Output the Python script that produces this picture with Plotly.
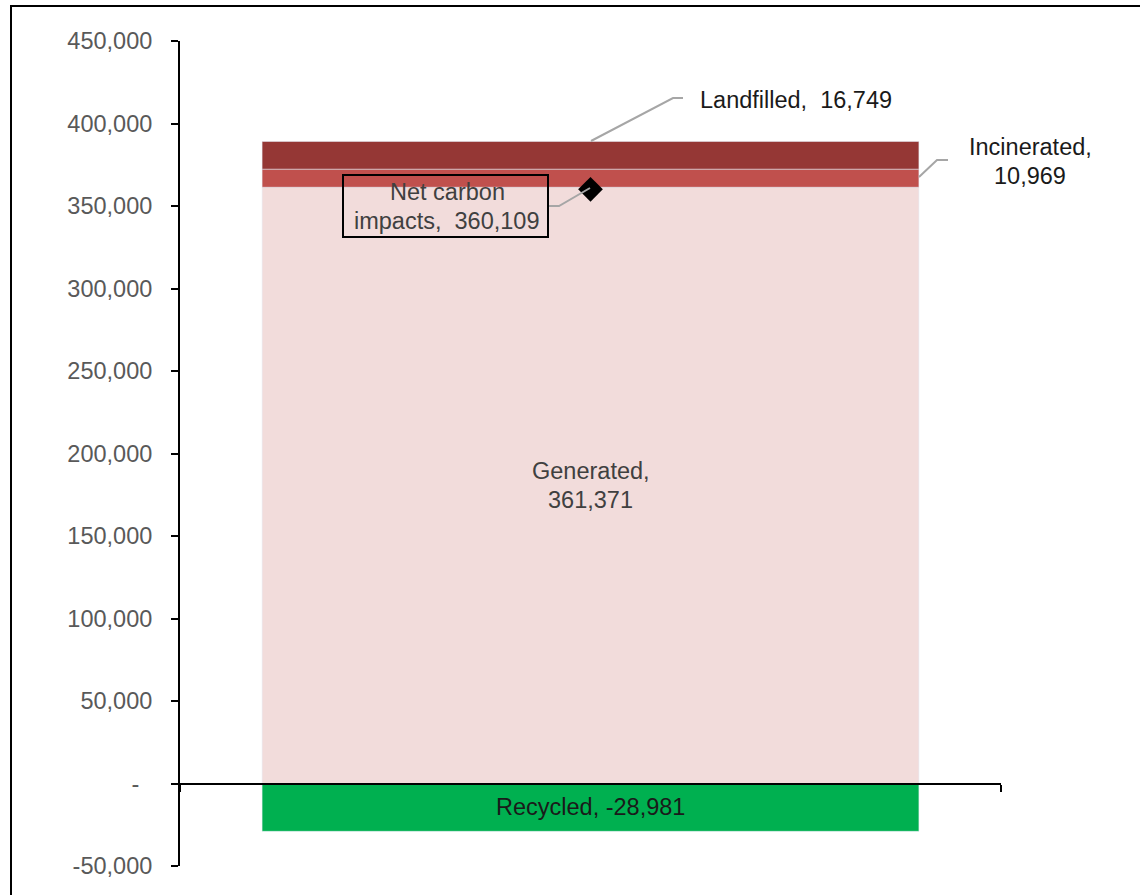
import plotly.graph_objects as go

# ---- data ----
category = ["Total"]
generated = [361371]
incinerated = [10969]
landfilled = [16749]
recycled = [-28981]
net_carbon = [360109]
y_ticks = [-50000, 0, 50000, 100000, 150000, 200000, 250000, 300000, 350000, 400000, 450000]
y_ticktext = ["-50,000", "-\u00a0\u00a0", "50,000", "100,000", "150,000", "200,000",
              "250,000", "300,000", "350,000", "400,000", "450,000"]

FONT = "Liberation Sans, Arial, sans-serif"
FS = 23.5
LINE_GAP = 29  # px between text lines

# plot area in pixels (for paper conversions of leader lines)
L, R, T, B = 180, 1001, 41, 866
def px(x):
    return (x - L) / (R - L)
def py(y):
    return (B - y) / (B - T)

fig = go.Figure()
fig.add_bar(x=category, y=generated, marker_color="#F2DCDB", width=0.8, name="Generated")
fig.add_bar(x=category, y=incinerated, marker_color="#C0504D", width=0.8, name="Incinerated")
fig.add_bar(x=category, y=landfilled, marker_color="#953735", width=0.8, name="Landfilled")
fig.add_bar(x=category, y=recycled, marker_color="#00B050", width=0.8, name="Recycled")
fig.add_scatter(x=category, y=net_carbon, mode="markers",
                marker=dict(symbol="diamond", size=19, color="black"), name="Net carbon impacts")

annotations = []
def label(lines, color, **kw):
    n = len(lines)
    for i, t in enumerate(lines):
        shift = ((n - 1) / 2 - i) * LINE_GAP
        annotations.append(dict(text=t, showarrow=False, yshift=shift,
                                font=dict(family=FONT, size=FS, color=color), **kw))

label(["Generated,", f"{generated[0]:,}"], "#404040",
      x=category[0], y=generated[0] / 2, xref="x", yref="y")
label([f"Recycled, {recycled[0]:,}"], "#1a1a1a",
      x=category[0], y=recycled[0] / 2, xref="x", yref="y")
label([f"Landfilled,  {landfilled[0]:,}"], "#1a1a1a",
      x=px(698), y=py(100), xref="paper", yref="paper", xanchor="left", yanchor="middle")
label(["Incinerated,", f"{incinerated[0]:,}"], "#1a1a1a",
      x=px(1030), y=py(161), xref="paper", yref="paper", xanchor="center", yanchor="middle")
label(["Net carbon", f"impacts,  {net_carbon[0]:,}"], "#404040",
      x=px(447), y=py(207), xref="paper", yref="paper", xanchor="center", yanchor="middle")

lc = dict(color="#A6A6A6", width=2)
shapes = [
    # outer chart border
    dict(type="rect", xref="paper", yref="paper", x0=px(11), y0=py(960), x1=px(1200), y1=py(6),
         line=dict(color="black", width=2), fillcolor="rgba(0,0,0,0)", layer="above"),
    # net carbon label box
    dict(type="rect", xref="paper", yref="paper", x0=px(343), y0=py(237), x1=px(548), y1=py(175),
         line=dict(color="black", width=2), fillcolor="rgba(0,0,0,0)", layer="above"),
    # leader lines
    dict(type="path", xref="paper", yref="paper",
         path=f"M {px(591)} {py(141)} L {px(673)} {py(98)} L {px(683)} {py(98)}", line=lc),
    dict(type="path", xref="paper", yref="paper",
         path=f"M {px(919)} {py(177)} L {px(937)} {py(160)} L {px(948)} {py(160)}", line=lc),
    dict(type="path", xref="paper", yref="paper",
         path=f"M {px(549)} {py(206)} L {px(559)} {py(206)} L {px(590)} {py(188)}", line=lc),
]

fig.update_layout(
    width=1140, height=895,
    margin=dict(l=L, r=1140 - R, t=T, b=895 - B),
    barmode="relative",
    showlegend=False,
    plot_bgcolor="white", paper_bgcolor="white",
    font=dict(family=FONT, size=FS, color="#595959"),
    annotations=annotations,
    shapes=shapes,
    xaxis=dict(type="category", range=[-0.5, 0.5], anchor="free", position=0.1,
               showline=True, linecolor="black", linewidth=2,
               ticks="outside", tickson="boundaries", ticklen=7, tickwidth=2, tickcolor="black",
               showticklabels=False, showgrid=False, zeroline=False),
    yaxis=dict(range=[-50000, 450000], tickvals=y_ticks, ticktext=y_ticktext,
               showline=True, linecolor="black", linewidth=2,
               ticks="outside", ticklen=7, tickwidth=2, tickcolor="black",
               ticklabelstandoff=14,
               tickfont=dict(family=FONT, size=FS, color="#595959"),
               showgrid=False, zeroline=False),
)

fig.write_html("out.html")
